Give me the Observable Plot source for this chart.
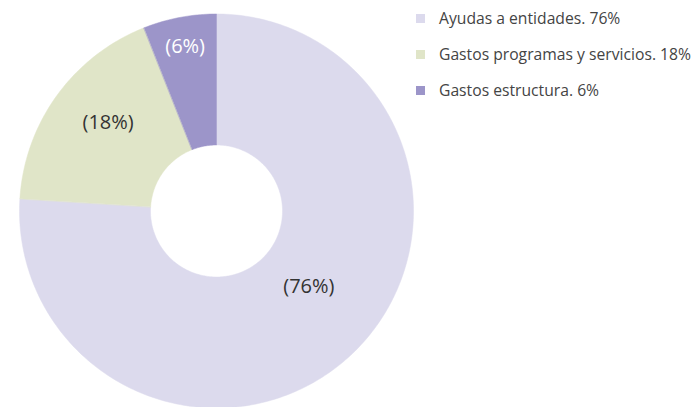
<!DOCTYPE html>
<html>
<head>
<meta charset="utf-8">
<script src="https://cdn.jsdelivr.net/npm/d3@7"></script>
<script src="https://cdn.jsdelivr.net/npm/@observablehq/plot@0.6"></script>
<style>
  html, body { margin: 0; padding: 0; background: #fff; }
  #wrap { position: relative; width: 698px; height: 407px; font-family: "Open Sans", sans-serif; }
  #legend { position: absolute; left: 416px; top: 0px; }
  .row { display: flex; align-items: center; height: 36px; font-size: 15.7px; color: #444; }
  .sw { width: 9px; height: 9px; margin-right: 14px; }
</style>
</head>
<body>
<div id="wrap"></div>
<script>
const categories = ["Ayudas a entidades", "Gastos programas y servicios", "Gastos estructura"];
const values = [76, 18, 6];
const colors = ["#dcdaed", "#e0e5c8", "#9c95c9"];
const labelColors = ["#333333", "#333333", "#ffffff"];

// layout constants (pixels / angles)
const W = 698, H = 407, CX = 216, CY = 210.5, R = 197, R0 = 66;
const labelRadius = [0.605, 0.71, 0.85];
const labelAngleShift = [-7.6, 3.2, 0]; // degrees

const total = d3.sum(values);
const pie = d3.pie().sort(null).value(d => d.value)(categories.map((c, i) => ({cat: c, value: values[i], i})));

// build slice outlines in unit coordinates (radius 1 = outer)
const rIn = R0 / R;
const pts = [];
pie.forEach(s => {
  const n = Math.max(8, Math.ceil((s.endAngle - s.startAngle) * 60));
  const outer = d3.range(n + 1).map(k => s.startAngle + (s.endAngle - s.startAngle) * k / n);
  outer.forEach(a => pts.push({cat: s.data.cat, x: Math.sin(a), y: Math.cos(a)}));
  outer.slice().reverse().forEach(a => pts.push({cat: s.data.cat, x: rIn * Math.sin(a), y: rIn * Math.cos(a)}));
});

const labels = pie.map(s => {
  const a = (s.startAngle + s.endAngle) / 2 + labelAngleShift[s.data.i] * Math.PI / 180;
  const lr = labelRadius[s.data.i];
  return {text: `(${Math.round(s.data.value / total * 100)}%)`, x: lr * Math.sin(a), y: lr * Math.cos(a), color: labelColors[s.data.i]};
});

const plot = Plot.plot({
  width: W, height: H,
  margin: 0,
  x: {domain: [-CX / R, (W - CX) / R], axis: null},
  y: {domain: [(CY - H) / R, CY / R], axis: null},
  color: {domain: categories, range: colors},
  marks: [
    Plot.line(pts, {x: "x", y: "y", z: "cat", fill: "cat", stroke: "cat", strokeWidth: 0.5, curve: "linear-closed"}),
    Plot.text(labels, {x: "x", y: "y", text: "text", fill: d => d.color, fontSize: 20, fontFamily: "Open Sans"})
  ],
  style: {fontFamily: "Open Sans", background: "transparent"}
});

const wrap = document.getElementById("wrap");
wrap.appendChild(plot);

const legend = document.createElement("div");
legend.id = "legend";
categories.forEach((c, i) => {
  const row = document.createElement("div");
  row.className = "row";
  const sw = document.createElement("span");
  sw.className = "sw";
  sw.style.background = colors[i];
  const t = document.createElement("span");
  t.textContent = `${c}. ${values[i]}%`;
  row.appendChild(sw); row.appendChild(t);
  legend.appendChild(row);
});
wrap.appendChild(legend);
</script>
</body>
</html>
